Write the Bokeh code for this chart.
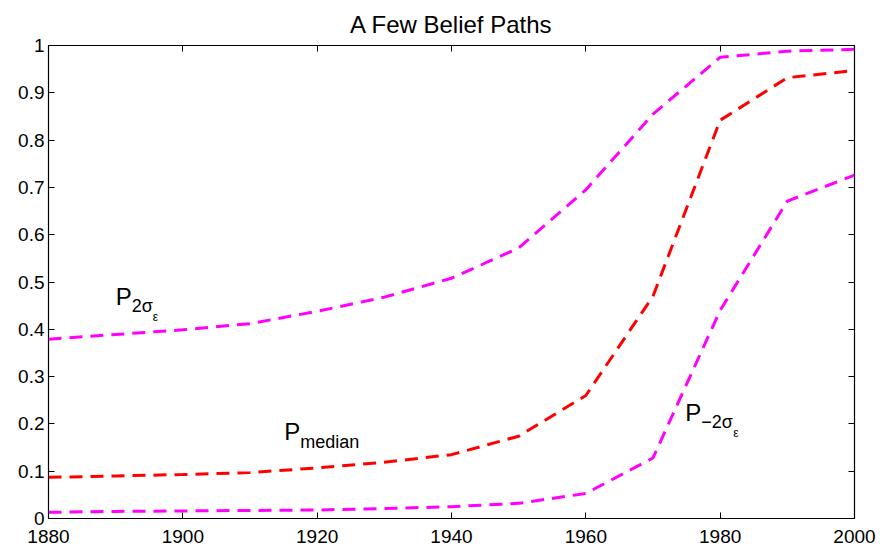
from bokeh.plotting import figure
from bokeh.models import Range1d, FixedTicker, LinearAxis, Label
from bokeh.embed import file_html
from bokeh.resources import INLINE

years = [1880, 1890, 1900, 1910, 1920, 1930, 1940, 1950, 1960, 1970, 1980, 1990, 2000]
p_upper = [0.379, 0.389, 0.399, 0.412, 0.438, 0.468, 0.508, 0.572, 0.695, 0.855, 0.975, 0.988, 0.992]
p_median = [0.087, 0.090, 0.093, 0.097, 0.107, 0.119, 0.135, 0.174, 0.260, 0.470, 0.842, 0.932, 0.947]
p_lower = [0.013, 0.015, 0.016, 0.017, 0.018, 0.021, 0.025, 0.032, 0.053, 0.128, 0.440, 0.671, 0.726]
x_ticks = [1880, 1900, 1920, 1940, 1960, 1980, 2000]
y_ticks = [0, 0.1, 0.2, 0.3, 0.4, 0.5, 0.6, 0.7, 0.8, 0.9, 1.0]
y_tick_labels = ["0", "0.1", "0.2", "0.3", "0.4", "0.5", "0.6", "0.7", "0.8", "0.9", "1"]

FONT = "Liberation Sans"

p = figure(frame_width=806, frame_height=473, output_backend="svg", toolbar_location=None,
           x_range=Range1d(1880, 2000), y_range=Range1d(0, 1),
           min_border_left=48, min_border_right=22, min_border_top=44, min_border_bottom=34,
           x_axis_location=None, y_axis_location=None)
p.title.text = "A Few Belief Paths"
p.title.align = "center"
p.title.text_font = FONT
p.title.text_font_size = "24px"
p.title.text_font_style = "normal"
p.title.text_color = "black"
p.title.standoff = 16
p.grid.visible = False
p.outline_line_color = "black"
p.outline_line_width = 1.2
p.background_fill_color = "white"
p.border_fill_color = "white"

def mk_axis(loc, labels, ticks, overrides=None, standoff=3):
    ax = LinearAxis(ticker=FixedTicker(ticks=ticks))
    ax.major_tick_in = 6
    ax.major_tick_out = 0
    ax.minor_tick_line_color = None
    ax.axis_line_color = "black"
    ax.major_tick_line_color = "black"
    ax.major_label_text_font = FONT
    ax.major_label_text_font_size = "19px"
    ax.major_label_text_color = "black"
    if labels:
        if overrides:
            ax.major_label_overrides = overrides
        ax.major_label_standoff = standoff
    else:
        ax.major_label_overrides = {t: "" for t in ticks}
        ax.major_label_standoff = 0
    p.add_layout(ax, loc)
    return ax

ov = {t: s for t, s in zip(y_ticks, y_tick_labels)}
mk_axis("left", True, y_ticks, ov, standoff=4)
mk_axis("below", True, x_ticks, standoff=11)
mk_axis("right", False, y_ticks)
mk_axis("above", False, x_ticks)

p.line(years, p_upper, line_color="#ff00ff", line_width=3, line_dash="13 8")
p.line(years, p_median, line_color="#ff0000", line_width=3, line_dash="13 8")
p.line(years, p_lower, line_color="#ff00ff", line_width=3, line_dash="13 8")

def lab(x, y, text, size, dx=0, dy=0):
    p.add_layout(Label(x=x, y=y, x_offset=dx, y_offset=dy, text=text, text_font=FONT,
                       text_font_size=size, text_color="black",
                       text_baseline="alphabetic", text_align="left"))

# P_{2σ_ε}
lab(1890.0, 0.470, "P", "24px")
lab(1890.0, 0.470, "2σ", "18px", dx=16, dy=-10)
lab(1890.0, 0.470, "ε", "12px", dx=37, dy=-21)
# P_median
lab(1915.1, 0.183, "P", "24px")
lab(1915.1, 0.183, "median", "18px", dx=16, dy=-10)
# P_{-2σ_ε}
lab(1974.8, 0.225, "P", "24px")
lab(1974.8, 0.225, "−2σ", "18px", dx=16, dy=-10)
lab(1974.8, 0.225, "ε", "12px", dx=48, dy=-21)

open("out.html", "w").write(file_html(p, INLINE))
